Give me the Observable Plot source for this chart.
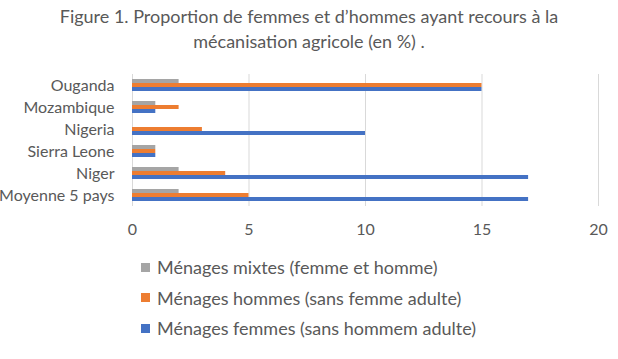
<!DOCTYPE html>
<html>
<head>
<meta charset="utf-8">
<script src="https://cdn.jsdelivr.net/npm/d3@7"></script>
<script src="https://cdn.jsdelivr.net/npm/@observablehq/plot@0.6"></script>
<style>
  html, body { margin: 0; padding: 0; background: #fff; }
  #wrap { position: relative; width: 618px; height: 359px; overflow: hidden; font-family: Lato, "Open Sans", sans-serif; color: #595959; }
  #title { position: absolute; left: 0; top: 4px; width: 618px; text-align: center; font-size: 18px; line-height: 25px; }
  #chart { position: absolute; left: 0; top: 58px; }
  #legend { position: absolute; left: 141px; top: 252px; font-size: 18px; }
  .row { height: 30.5px; display: flex; align-items: center; }
  .sw { width: 9px; height: 9px; margin-right: 7px; }
</style>
</head>
<body>
<div id="wrap">
  <div id="title">Figure 1. Proportion de femmes et d’hommes ayant recours à la<br>mécanisation agricole (en %) .</div>
  <div id="chart"></div>
  <div id="legend"></div>
</div>
<script>
const countries = ["Ouganda", "Mozambique", "Nigeria", "Sierra Leone", "Niger", "Moyenne 5 pays"];
const seriesNames = ["Ménages mixtes (femme et homme)", "Ménages hommes (sans femme adulte)", "Ménages femmes (sans hommem adulte)"];
const mixtes = [2, 1, 0, 1, 2, 2];
const hommes = [15, 2, 3, 1, 4, 5];
const femmes = [15, 1, 10, 1, 17, 17];
const colors = ["#A5A5A5", "#ED7D31", "#4472C4"];
const xTicks = [0, 5, 10, 15, 20];

const seriesValues = [mixtes, hommes, femmes];
const data = [];
countries.forEach((c, i) => {
  seriesNames.forEach((s, j) => {
    data.push({country: c, series: s, value: seriesValues[j][i]});
  });
});

const chart = Plot.plot({
  width: 618,
  height: 190,
  marginTop: 14,
  marginBottom: 40,
  marginLeft: 132,
  marginRight: 20,
  style: {fontFamily: "Lato, 'Open Sans', sans-serif", fontSize: "16px", color: "#595959", background: "transparent", overflow: "visible"},
  x: {domain: [0, 20], ticks: xTicks, tickSize: 0, tickPadding: 17, label: null},
  y: {domain: seriesNames, paddingInner: 0, paddingOuter: 1, axis: null},
  fy: {domain: countries, padding: 0, label: null, axis: "left", tickSize: 0, tickPadding: 18},
  color: {domain: seriesNames, range: colors},
  marks: [
    Plot.ruleX(xTicks, {x: d => d, stroke: "#D9D9D9", strokeWidth: 1}),
    Plot.barX(data, {x: "value", y: "series", fy: "country", fill: "series"})
  ]
});
document.getElementById("chart").appendChild(chart);

const legend = document.getElementById("legend");
seriesNames.forEach((s, j) => {
  const row = document.createElement("div");
  row.className = "row";
  const sw = document.createElement("div");
  sw.className = "sw";
  sw.style.background = colors[j];
  const t = document.createElement("span");
  t.textContent = s;
  row.appendChild(sw);
  row.appendChild(t);
  legend.appendChild(row);
});
</script>
</body>
</html>
